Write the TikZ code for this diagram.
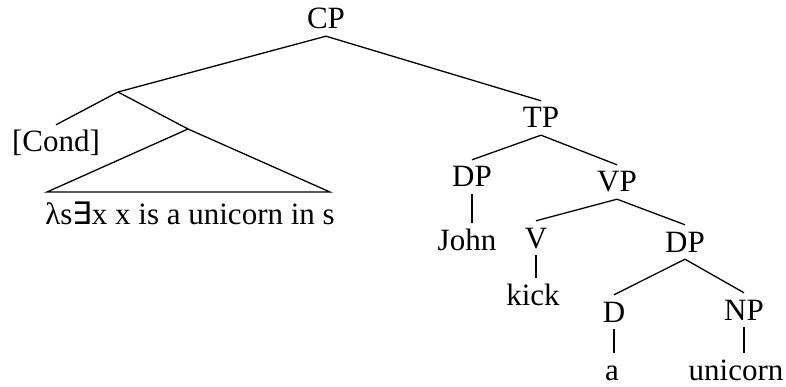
\documentclass[tikz,border=0pt]{standalone}
\usepackage{fontspec}
\setmainfont{Liberation Serif}
\newfontfamily\symfnt{DejaVu Sans}
\begin{document}
\begin{tikzpicture}[x=1pt,y=-1pt,
  lbl/.style={font=\fontsize{31}{36}\selectfont, anchor=base, inner xsep=0pt,
    inner ysep=7pt, text height=20pt, text depth=0pt},
  edge/.style={line width=1.3pt}]
\useasboundingbox (0,0) rectangle (786,387);
% nodes
\node[lbl] (cp) at (326,29) {CP};
\node[lbl] (tp) at (541,128) {TP};
\node[lbl] (dp) at (472,187) {DP};
\node[lbl] (john) at (467,250) {John};
\node[lbl] (vp) at (617,192) {VP};
\node[lbl] (v) at (536,248) {V};
\node[lbl] (kick) at (533,305) {kick};
\node[lbl] (dp2) at (685,252) {DP};
\node[lbl] (d) at (614,322) {D};
\node[lbl] (a) at (612,380) {a};
\node[lbl] (np) at (744,320) {NP};
\node[lbl] (uni) at (736,380) {unicorn};
\node[lbl] (cond) at (56,152) {[Cond]};
\node[lbl] (lam) at (190,225) {λs{\symfnt ∃}x x is a unicorn in s};
\coordinate (b1) at (118,92);
\coordinate (b2) at (188,129);
\coordinate (tl) at (47,192);
\coordinate (tr) at (330,192);
% edges
\draw[edge] (cp.south) -- (b1);
\draw[edge] (cp.south) -- (tp.north);
\draw[edge] (b1) -- (cond.north);
\draw[edge] (b1) -- (b2);
\draw[edge] (b2) -- (tl) -- (tr) -- cycle;
\draw[edge] (tp.south) -- (dp.north);
\draw[edge] (tp.south) -- (vp.north);
\draw[edge] (dp.south) -- (dp.south |- john.north);
\draw[edge] (vp.south) -- (v.north);
\draw[edge] (vp.south) -- (dp2.north);
\draw[edge] (v.south) -- (v.south |- kick.north);
\draw[edge] (dp2.south) -- (d.north);
\draw[edge] (dp2.south) -- (np.north);
\draw[edge] (d.south) -- (d.south |- a.north);
\draw[edge] (np.south) -- (np.south |- uni.north);
\end{tikzpicture}
\end{document}
